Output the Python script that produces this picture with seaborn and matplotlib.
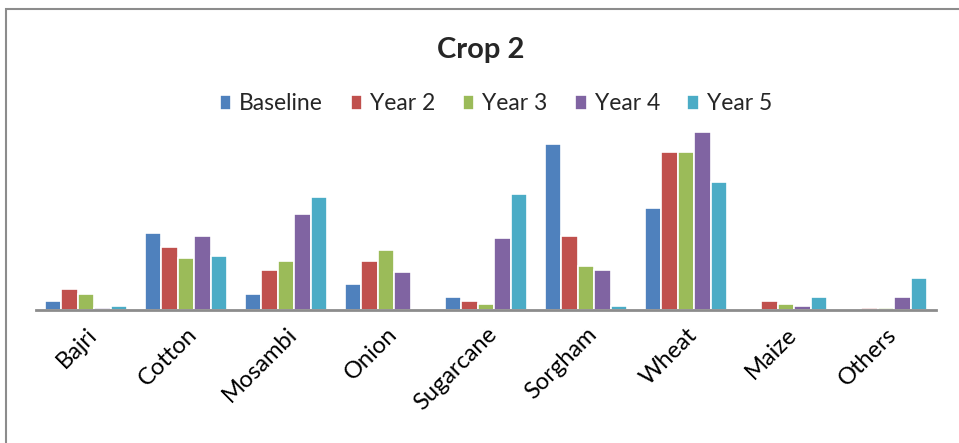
import pandas as pd
import matplotlib.pyplot as plt
import seaborn as sns
from matplotlib.patches import Rectangle

# Values (bar heights, arbitrary units)
crops = ['Bajri', 'Cotton', 'Mosambi', 'Onion', 'Sugarcane', 'Sorgham', 'Wheat', 'Maize', 'Others']
series = ['Baseline', 'Year 2', 'Year 3', 'Year 4', 'Year 5']
baseline = [9, 77, 16, 26, 13, 166, 102, 0, 0]
year2 = [21, 63, 40, 49, 9, 74, 158, 9, 2]
year3 = [16, 52, 49, 60, 6, 44, 158, 6, 2]
year4 = [2, 74, 96, 38, 72, 40, 178, 4, 13]
year5 = [4, 54, 113, 0, 116, 4, 128, 13, 32]
colors = ['#4F81BD', '#C0504D', '#9BBB59', '#8064A2', '#4BACC6']

df = pd.DataFrame({'Crop': crops, 'Baseline': baseline, 'Year 2': year2,
                   'Year 3': year3, 'Year 4': year4, 'Year 5': year5})
long_df = df.melt(id_vars='Crop', var_name='Series', value_name='Value')

sns.set_style('white')
plt.rcParams['font.family'] = ['Lato', 'DejaVu Sans']

fig = plt.figure(figsize=(9.59, 4.43), dpi=100)
ax = fig.add_axes([36 / 959, 133 / 443, 900 / 959, 190 / 443])

sns.barplot(data=long_df, x='Crop', y='Value', hue='Series', hue_order=series,
            palette=colors, width=0.82, edgecolor='white', linewidth=1.2,
            saturation=1, ax=ax)

ax.set_ylim(0, 190)
ax.set_xlim(-0.5, len(crops) - 0.5)
ax.set_xlabel('')
ax.set_ylabel('')
ax.set_yticks([])
for s in ['top', 'right', 'left']:
    ax.spines[s].set_visible(False)
ax.spines['bottom'].set_color('#8c8c8c')
ax.spines['bottom'].set_linewidth(2)
ax.tick_params(axis='x', length=0, pad=10)
plt.setp(ax.get_xticklabels(), rotation=45, ha='right', rotation_mode='anchor',
         fontsize=17, color='black')

ax.legend(loc='center', bbox_to_anchor=(496 / 959, 1 - 104 / 443),
          bbox_transform=fig.transFigure, ncol=5, frameon=False,
          fontsize=16.5, handlelength=0.5, handleheight=0.65,
          handletextpad=0.35, columnspacing=1.2)

fig.text(481 / 959, 1 - 50 / 443, 'Crop 2', ha='center', va='center',
         fontsize=21, fontweight='bold')

# outer chart border (left and top visible)
fig.patches.append(Rectangle((6 / 959, -0.05), 1.1, 1.05 - 9 / 443,
                             transform=fig.transFigure, fill=False,
                             edgecolor='#8c8c8c', linewidth=1.5))

fig.savefig('out.png', dpi=100)
